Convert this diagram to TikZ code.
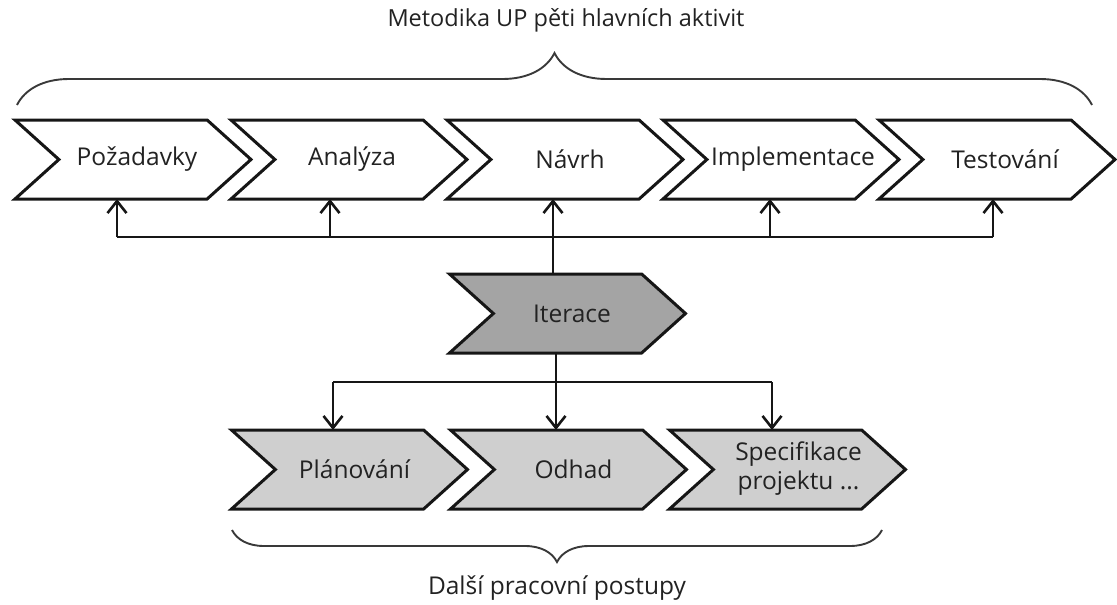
\documentclass[tikz,border=0pt]{standalone}
\usepackage{fontspec}
\setmainfont{Open Sans}
\usetikzlibrary{shapes.symbols,arrows.meta,decorations.pathreplacing}
\definecolor{ink}{HTML}{161616}
\definecolor{textgray}{HTML}{222222}
\definecolor{iterfill}{HTML}{A4A4A4}
\definecolor{subfill}{HTML}{CFCFCF}
% label set in a zero-width box, nudged right, so the chevron keeps its size
\newcommand{\chevlabel}[2]{\makebox[0pt]{\hspace*{#1}#2}}
\tikzset{
  chevron/.style={shape=signal, signal from=west, signal to=east,
    signal pointer angle=84, minimum width=236pt, minimum height=79pt,
    inner sep=0pt, outer sep=0pt, draw=ink, line width=3pt,
    text=textgray, font=\fontsize{24.5}{29}\selectfont, fill=white},
  activity/.style={chevron},
  iteration/.style={chevron, fill=iterfill},
  practice/.style={chevron, fill=subfill},
  wire/.style={draw=ink, line width=2.5pt},
  arr/.style={wire, -{Straight Barb[length=12pt,width=19pt,line width=2.6pt]}},
  bracecurve/.style={draw=ink!85, line width=1.9pt, decorate,
    decoration={brace, amplitude=#1}},
  caption/.style={text=textgray, inner sep=0pt},
}
\begin{document}
\begin{tikzpicture}[x=1pt,y=-1pt]
\useasboundingbox (0,0) rectangle (1117,605);

% headline and the brace over the five activities
\node[caption, font=\fontsize{23.5}{28}\selectfont] (title) at (566,20) {Metodika UP pěti hlavních aktivit};
\coordinate (tbL) at (17,105);
\coordinate (tbR) at (1092,105);
\draw[bracecurve=52pt] (tbL) -- (tbR);

% the five main activities
\node[activity] (poz) at (133,159.5) {\chevlabel{8pt}{Požadavky}};
\node[activity] (ana) at (349,159.5) {\chevlabel{6pt}{Analýza}};
\node[activity] (nav) at (565,159.5) {\chevlabel{10pt}{Návrh}};
\node[activity] (imp) at (781,159.5) {\chevlabel{24pt}{Implementace}};
\node[activity] (tes) at (997,159.5) {\chevlabel{16pt}{Testování}};

% iteration
\node[iteration] (it) at (567.5,313.5) {\chevlabel{9pt}{Iterace}};

% further practices
\node[practice] (pla) at (349.5,469.5) {\chevlabel{10pt}{Plánování}};
\node[practice] (odh) at (568.5,469.5) {\chevlabel{10pt}{Odhad}};
\node[practice] (spe) at (787.5,469.5) {\chevlabel{22pt}{\begin{tabular}{@{}c@{}}Specifikace\\projektu ...\end{tabular}}};

% upper bus: iteration feeds every activity
\coordinate (b1) at (117,237);
\coordinate (b2) at (330,237);
\coordinate (b3) at (553,237);
\coordinate (b4) at (770,237);
\coordinate (b5) at (993,237);
\draw[wire] (b1) -- (b5);
\draw[arr] (b1) -- (b1 |- poz.south);
\draw[arr] (b2) -- (b2 |- ana.south);
\draw[arr] (b3 |- it.north) -- (b3 |- nav.south);
\draw[arr] (b4) -- (b4 |- imp.south);
\draw[arr] (b5) -- (b5 |- tes.south);

% lower bus: iteration drives the practices
\coordinate (c1) at (333,382);
\coordinate (c2) at (556,382);
\coordinate (c3) at (772,382);
\draw[wire] (c1) -- (c3);
\draw[wire] (c2 |- it.south) -- (c2);
\draw[arr] (c1) -- (c1 |- pla.north);
\draw[arr] (c2) -- (c2 |- odh.north);
\draw[arr] (c3) -- (c3 |- spe.north);

% brace under the practices and its caption
\coordinate (bbL) at (232,530);
\coordinate (bbR) at (882,530);
\draw[bracecurve=32pt] (bbR) -- (bbL);
\node[caption, font=\fontsize{24.5}{29}\selectfont] (foot) at (557,588) {Další pracovní postupy};
\end{tikzpicture}
\end{document}
